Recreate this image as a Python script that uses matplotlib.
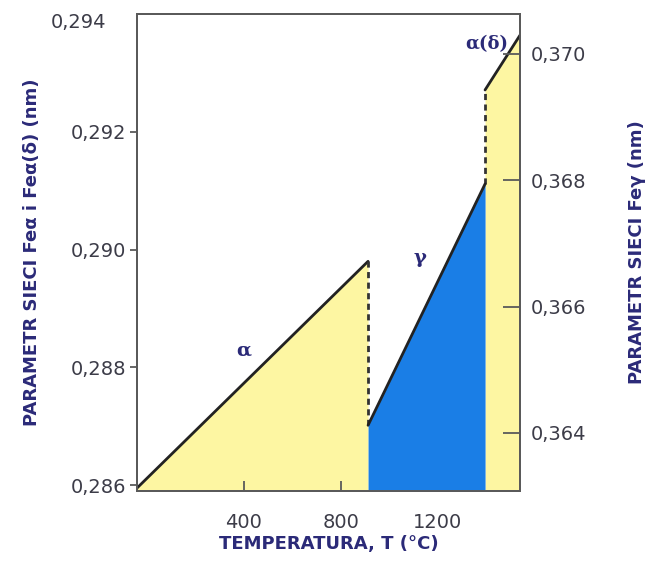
import matplotlib
matplotlib.use("Agg")
import matplotlib.pyplot as plt
import matplotlib.transforms as mtransforms
import numpy as np

# ---- data ----
T_alpha = [-40, 912]
a_alpha = [0.28595, 0.28980]          # left axis (nm)
T_gamma = [912, 1394]
a_gamma = [0.36412, 0.36794]          # right axis (nm)
T_delta = [1394, 1538]
a_delta = [0.29271, 0.29364]          # left axis (nm)

x_ticks = [400, 800, 1200]
left_ticks = [0.286, 0.288, 0.290, 0.292, 0.294]
left_ticklabels = ["0,286", "0,288", "0,290", "0,292", "0,294"]
right_ticks = [0.364, 0.366, 0.368, 0.370]
right_ticklabels = ["0,364", "0,366", "0,368", "0,370"]

XLIM = (-40, 1538)
LLIM = (0.2859, 0.2940)
RLIM = (0.36308, 0.37063)

yellow = "#fdf6a2"
blue = "#1a7ee6"
navy = "#2b2a78"
tickcol = "#3c3c48"
spinecol = "#5a5a5a"

fig = plt.figure(figsize=(6.48, 5.68), dpi=100)
ax = fig.add_axes([137/648, 1-491/568, (520-137)/648, (491-14)/568])
ax2 = ax.twinx()

ax.set_xlim(*XLIM)
ax.set_ylim(*LLIM)
ax2.set_ylim(*RLIM)

def r2l(v):
    return LLIM[0] + (v - RLIM[0]) / (RLIM[1] - RLIM[0]) * (LLIM[1] - LLIM[0])

# fills
ax.fill_between(T_alpha, a_alpha, LLIM[0], color=yellow, lw=0, zorder=1)
ax.fill_between(T_delta, a_delta, LLIM[0], color=yellow, lw=0, zorder=1)
ax2.fill_between(T_gamma, a_gamma, RLIM[0], color=blue, lw=0, zorder=1)

# lines
ax.plot(T_alpha, a_alpha, color="#222222", lw=2, zorder=3, solid_capstyle="round")
ax.plot(T_delta, a_delta, color="#222222", lw=2, zorder=3, solid_capstyle="round")
ax2.plot(T_gamma, a_gamma, color="#222222", lw=2, zorder=3, solid_capstyle="round")

# dashed transitions
ax.plot([T_alpha[1], T_gamma[0]], [a_alpha[1], r2l(a_gamma[0])],
        color="#333333", lw=2, ls=(0, (2.2, 1.6)), zorder=3)
ax.plot([T_gamma[1], T_delta[0]], [r2l(a_gamma[1]), a_delta[0]],
        color="#333333", lw=2, ls=(0, (2.2, 1.6)), zorder=3)

# phase labels
ax.text(400, 0.28829, "α", color=navy, fontsize=14, fontweight="bold",
        ha="center", va="center", family="DejaVu Serif", zorder=4)
ax.text(1125, 0.28985, "γ", color=navy, fontsize=14, fontweight="bold",
        ha="center", va="center", family="DejaVu Serif", zorder=4)
ax2.text(1490, 0.37015, "α(δ)", color=navy, fontsize=13, fontweight="bold",
         ha="right", va="center", family="DejaVu Serif", zorder=4)

# ticks
ax.set_xticks(x_ticks)
ax.set_xticklabels([str(t) for t in x_ticks])
ax.set_yticks(left_ticks)
ax.set_yticklabels(left_ticklabels)
ax2.set_yticks(right_ticks)
ax2.set_yticklabels(right_ticklabels)

ax.tick_params(axis="x", direction="in", length=7, width=1.3, color=spinecol,
               labelsize=14, labelcolor=tickcol, pad=16)
ax.tick_params(axis="y", direction="out", length=5, width=1.3, color=spinecol,
               labelsize=14, labelcolor=tickcol, pad=3)
ax2.tick_params(axis="y", direction="in", length=12, width=1.3, color=spinecol,
                labelsize=14, labelcolor=tickcol, pad=8)

# top-left tick label sits slightly lower/left in the reference, no tick mark
top_lbl = ax.get_yticklabels()[-1]
top_lbl.set_transform(top_lbl.get_transform() +
                      mtransforms.ScaledTranslation(-20/100, -7/100, fig.dpi_scale_trans))
ax.yaxis.get_major_ticks()[-1].tick1line.set_visible(False)

for a in (ax, ax2):
    for s in a.spines.values():
        s.set_color(spinecol)
        s.set_linewidth(1.4)

ax.set_xlabel("TEMPERATURA, T (°C)", color=navy, fontsize=13, fontweight="bold", labelpad=2)
ax.set_ylabel("PARAMETR SIECI Feα i Feα(δ) (nm)", color=navy, fontsize=13,
              fontweight="bold", labelpad=7)
ax2.set_ylabel("PARAMETR SIECI Feγ (nm)", color=navy, fontsize=13,
               fontweight="bold", labelpad=30)

fig.savefig("out.png", dpi=100, facecolor="white")
